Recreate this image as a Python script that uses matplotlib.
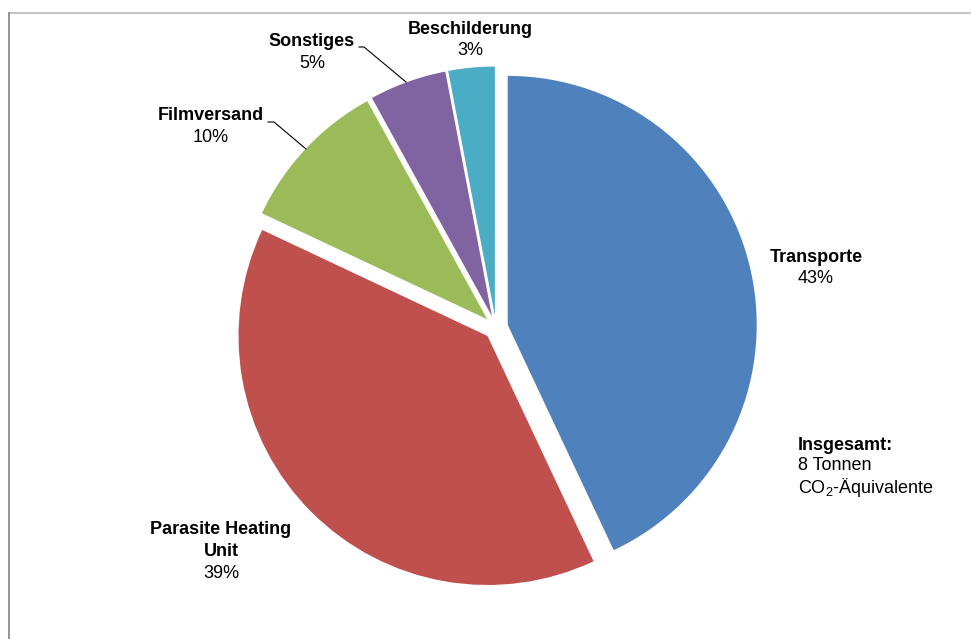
import matplotlib
matplotlib.use("Agg")
import matplotlib.pyplot as plt
import numpy as np

plt.rcParams['font.family'] = ['Liberation Sans', 'DejaVu Sans']
plt.rcParams['mathtext.fontset'] = 'custom'
plt.rcParams['mathtext.rm'] = 'Liberation Sans'
plt.rcParams['mathtext.it'] = 'Liberation Sans'
plt.rcParams['mathtext.bf'] = 'Liberation Sans:bold'

categories = ["Transporte", "Parasite Heating Unit", "Filmversand", "Sonstiges", "Beschilderung"]
values = [43, 39, 10, 5, 3]
colors = ["#4F81BD", "#C0504D", "#9BBB59", "#8064A2", "#4BACC6"]
total_title = "Insgesamt:"
total_lines = ["8 Tonnen", r"$\mathregular{CO_2}$-Äquivalente"]

W, H = 971, 639
fig = plt.figure(figsize=(W / 100, H / 100), dpi=100)
ax = fig.add_axes([0, 0, 1, 1])

cx, cy, R = 496, H - 327.5, 249
explode_px = 12
wedges, _ = ax.pie(values, colors=colors, startangle=90, counterclock=False,
                   center=(cx, cy), radius=R, explode=[explode_px] * len(values),
                   wedgeprops=dict(linewidth=0), frame=True)
ax.set_xlim(0, W)
ax.set_ylim(0, H)
ax.set_aspect('equal')
ax.axis('off')

# figure frame lines (top and left)
fig.add_artist(plt.Line2D([8.5 / W, 970 / W], [1 - 12.5 / H, 1 - 12.5 / H],
                          transform=fig.transFigure, color="#BFBFBF", lw=1.3))
fig.add_artist(plt.Line2D([8.5 / W, 8.5 / W], [0, 1 - 12.5 / H],
                          transform=fig.transFigure, color="#8C8C8C", lw=1.3))

fs = 13
label_pos = {
    "Transporte": (816, 257),
    "Parasite Heating Unit": (221, 530),
    "Filmversand": (211, 116),
    "Sonstiges": (312, 42),
    "Beschilderung": (470, 29),
}
name_text = {"Parasite Heating Unit": "Parasite Heating\nUnit"}
line_h = 21.5
for cat, v in zip(categories, values):
    x, y = label_pos[cat]
    nm = name_text.get(cat, cat)
    nlines = nm.count("\n") + 1
    for i, part in enumerate(nm.split("\n")):
        ax.text(x, H - (y + i * line_h), part, ha='center', va='center',
                fontsize=fs, fontweight='bold', color='black')
    ax.text(x, H - (y + nlines * line_h), f"{v}%", ha='center', va='center',
            fontsize=fs, color='black')

# leader lines
leaders = [
    [(359, 47), (364, 47), (406, 82)],
    [(268, 122), (274, 122), (306, 149)],
]
for pts in leaders:
    xs = [p[0] for p in pts]
    ys = [H - p[1] for p in pts]
    ax.plot(xs, ys, color='black', lw=0.8)

ax.text(798, H - 445, total_title, ha='left', va='center', fontsize=fs,
        fontweight='bold')
for i, t in enumerate(total_lines):
    ax.text(798, H - (466 + i * line_h), t, ha='left', va='center', fontsize=fs)

fig.savefig("out.png", dpi=100, facecolor='white')
